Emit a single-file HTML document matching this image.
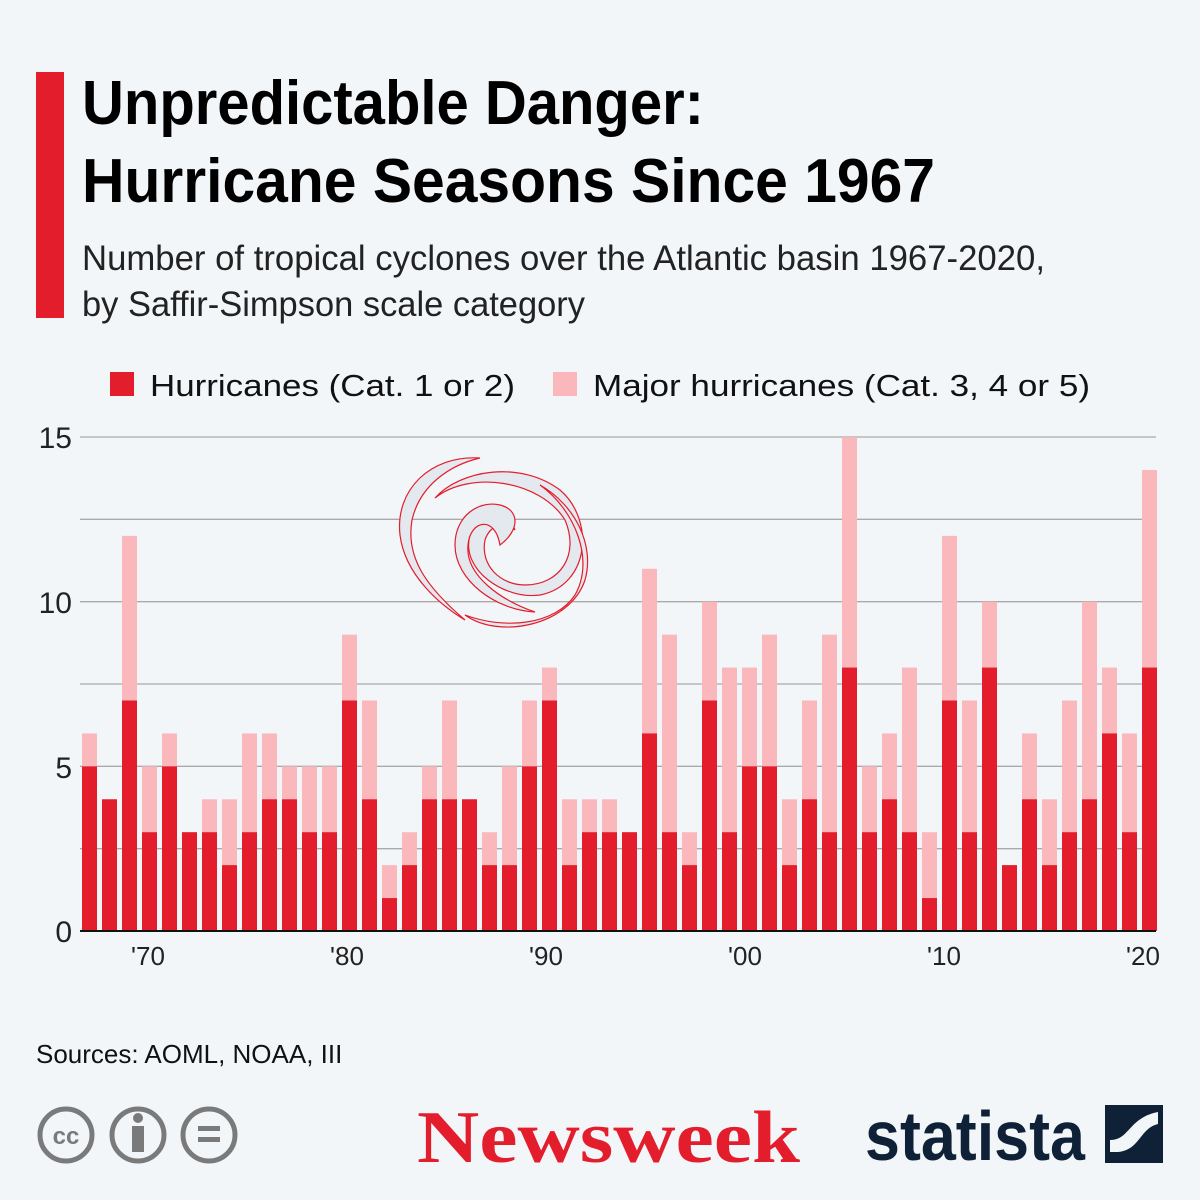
<!DOCTYPE html>
<html><head><meta charset="utf-8"><style>
html,body{margin:0;padding:0;background:#f3f6f9;}
svg{display:block;font-family:"Liberation Sans",sans-serif;}
</style></head><body>
<svg width="1200" height="1200" viewBox="0 0 1200 1200" xmlns="http://www.w3.org/2000/svg">
<rect width="1200" height="1200" fill="#f3f6f9"/>
<rect x="36" y="72" width="28" height="246" fill="#e31d2b"/>
<text x="82" y="124" font-size="62" font-weight="bold" textLength="622" lengthAdjust="spacingAndGlyphs" fill="#000">Unpredictable Danger:</text>
<text x="82" y="202" font-size="62" font-weight="bold" textLength="853" lengthAdjust="spacingAndGlyphs" fill="#000">Hurricane Seasons Since 1967</text>
<text x="82" y="270" font-size="35" textLength="963" lengthAdjust="spacingAndGlyphs" fill="#222">Number of tropical cyclones over the Atlantic basin 1967-2020,</text>
<text x="82" y="316" font-size="35" textLength="503" lengthAdjust="spacingAndGlyphs" fill="#222">by Saffir-Simpson scale category</text>
<rect x="110" y="372" width="24" height="24" fill="#e31d2b"/>
<text x="150" y="396" font-size="31" textLength="365" lengthAdjust="spacingAndGlyphs" fill="#111">Hurricanes (Cat. 1 or 2)</text>
<rect x="553" y="372" width="24" height="24" fill="#fbb8bc"/>
<text x="593" y="396" font-size="31" textLength="497" lengthAdjust="spacingAndGlyphs" fill="#111">Major hurricanes (Cat. 3, 4 or 5)</text>
<g stroke="#aaa" stroke-width="1.3">
<line x1="80" x2="1156" y1="437" y2="437"/><line x1="80" x2="1156" y1="519.3" y2="519.3"/>
<line x1="80" x2="1156" y1="601.7" y2="601.7"/><line x1="80" x2="1156" y1="684" y2="684"/>
<line x1="80" x2="1156" y1="766.3" y2="766.3"/><line x1="80" x2="1156" y1="848.7" y2="848.7"/>
</g>
<g font-size="30" fill="#222" text-anchor="end">
<text x="72" y="448">15</text><text x="72" y="613">10</text><text x="72" y="778">5</text><text x="72" y="942">0</text>
</g>
<g fill="none" stroke="#e31d2b" stroke-width="1.2">
<path d="M480 458 C430 455 395 490 400 535 C405 575 440 605 465 620 C430 590 405 560 412 520 C420 485 450 465 480 458Z" fill="#e4e9f0"/>
<path d="M435 498 C470 470 540 480 565 520 C580 555 560 585 525 585 C500 585 480 565 485 540 C490 525 505 520 515 530 C510 515 480 515 470 535 C460 570 505 600 540 595 C590 585 595 520 560 490 C520 460 460 470 435 498Z" fill="#e4e9f0"/>
<path d="M500 545 C520 530 520 510 500 505 C480 500 455 515 455 545 C455 580 495 610 535 612 C500 600 465 575 468 545 C470 520 495 515 500 545Z" fill="#e4e9f0"/>
<path d="M540 485 C575 510 595 560 575 595 C555 625 505 630 465 615 C500 640 570 625 585 580 C595 545 575 505 540 485Z" fill="#e4e9f0"/>
</g>
<g transform="translate(0,931) scale(1,-32.93)">
<g fill="#fbb8bc">
<rect x="82" y="0" width="15" height="6"/><rect x="102" y="0" width="15" height="4"/><rect x="122" y="0" width="15" height="12"/><rect x="142" y="0" width="15" height="5"/><rect x="162" y="0" width="15" height="6"/><rect x="182" y="0" width="15" height="3"/><rect x="202" y="0" width="15" height="4"/><rect x="222" y="0" width="15" height="4"/><rect x="242" y="0" width="15" height="6"/><rect x="262" y="0" width="15" height="6"/><rect x="282" y="0" width="15" height="5"/><rect x="302" y="0" width="15" height="5"/><rect x="322" y="0" width="15" height="5"/><rect x="342" y="0" width="15" height="9"/><rect x="362" y="0" width="15" height="7"/><rect x="382" y="0" width="15" height="2"/><rect x="402" y="0" width="15" height="3"/><rect x="422" y="0" width="15" height="5"/><rect x="442" y="0" width="15" height="7"/><rect x="462" y="0" width="15" height="4"/><rect x="482" y="0" width="15" height="3"/><rect x="502" y="0" width="15" height="5"/><rect x="522" y="0" width="15" height="7"/><rect x="542" y="0" width="15" height="8"/><rect x="562" y="0" width="15" height="4"/><rect x="582" y="0" width="15" height="4"/><rect x="602" y="0" width="15" height="4"/><rect x="622" y="0" width="15" height="3"/><rect x="642" y="0" width="15" height="11"/><rect x="662" y="0" width="15" height="9"/><rect x="682" y="0" width="15" height="3"/><rect x="702" y="0" width="15" height="10"/><rect x="722" y="0" width="15" height="8"/><rect x="742" y="0" width="15" height="8"/><rect x="762" y="0" width="15" height="9"/><rect x="782" y="0" width="15" height="4"/><rect x="802" y="0" width="15" height="7"/><rect x="822" y="0" width="15" height="9"/><rect x="842" y="0" width="15" height="15"/><rect x="862" y="0" width="15" height="5"/><rect x="882" y="0" width="15" height="6"/><rect x="902" y="0" width="15" height="8"/><rect x="922" y="0" width="15" height="3"/><rect x="942" y="0" width="15" height="12"/><rect x="962" y="0" width="15" height="7"/><rect x="982" y="0" width="15" height="10"/><rect x="1002" y="0" width="15" height="2"/><rect x="1022" y="0" width="15" height="6"/><rect x="1042" y="0" width="15" height="4"/><rect x="1062" y="0" width="15" height="7"/><rect x="1082" y="0" width="15" height="10"/><rect x="1102" y="0" width="15" height="8"/><rect x="1122" y="0" width="15" height="6"/><rect x="1142" y="0" width="15" height="14"/>
</g>
<g fill="#e31d2b">
<rect x="82" y="0" width="15" height="5"/><rect x="102" y="0" width="15" height="4"/><rect x="122" y="0" width="15" height="7"/><rect x="142" y="0" width="15" height="3"/><rect x="162" y="0" width="15" height="5"/><rect x="182" y="0" width="15" height="3"/><rect x="202" y="0" width="15" height="3"/><rect x="222" y="0" width="15" height="2"/><rect x="242" y="0" width="15" height="3"/><rect x="262" y="0" width="15" height="4"/><rect x="282" y="0" width="15" height="4"/><rect x="302" y="0" width="15" height="3"/><rect x="322" y="0" width="15" height="3"/><rect x="342" y="0" width="15" height="7"/><rect x="362" y="0" width="15" height="4"/><rect x="382" y="0" width="15" height="1"/><rect x="402" y="0" width="15" height="2"/><rect x="422" y="0" width="15" height="4"/><rect x="442" y="0" width="15" height="4"/><rect x="462" y="0" width="15" height="4"/><rect x="482" y="0" width="15" height="2"/><rect x="502" y="0" width="15" height="2"/><rect x="522" y="0" width="15" height="5"/><rect x="542" y="0" width="15" height="7"/><rect x="562" y="0" width="15" height="2"/><rect x="582" y="0" width="15" height="3"/><rect x="602" y="0" width="15" height="3"/><rect x="622" y="0" width="15" height="3"/><rect x="642" y="0" width="15" height="6"/><rect x="662" y="0" width="15" height="3"/><rect x="682" y="0" width="15" height="2"/><rect x="702" y="0" width="15" height="7"/><rect x="722" y="0" width="15" height="3"/><rect x="742" y="0" width="15" height="5"/><rect x="762" y="0" width="15" height="5"/><rect x="782" y="0" width="15" height="2"/><rect x="802" y="0" width="15" height="4"/><rect x="822" y="0" width="15" height="3"/><rect x="842" y="0" width="15" height="8"/><rect x="862" y="0" width="15" height="3"/><rect x="882" y="0" width="15" height="4"/><rect x="902" y="0" width="15" height="3"/><rect x="922" y="0" width="15" height="1"/><rect x="942" y="0" width="15" height="7"/><rect x="962" y="0" width="15" height="3"/><rect x="982" y="0" width="15" height="8"/><rect x="1002" y="0" width="15" height="2"/><rect x="1022" y="0" width="15" height="4"/><rect x="1042" y="0" width="15" height="2"/><rect x="1062" y="0" width="15" height="3"/><rect x="1082" y="0" width="15" height="4"/><rect x="1102" y="0" width="15" height="6"/><rect x="1122" y="0" width="15" height="3"/><rect x="1142" y="0" width="15" height="8"/>
</g>
</g>
<line x1="80" x2="1156" y1="931" y2="931" stroke="#111" stroke-width="2"/>
<g font-size="26" fill="#222" text-anchor="middle">
<text x="148" y="965">'70</text><text x="347" y="965">'80</text><text x="546" y="965">'90</text>
<text x="745" y="965">'00</text><text x="944" y="965">'10</text><text x="1143" y="965">'20</text>
</g>
<text x="36" y="1063" font-size="26" fill="#111">Sources: AOML, NOAA, III</text>
<g stroke="#7a7a7a" stroke-width="5" fill="none">
<circle cx="66" cy="1135" r="26"/><circle cx="138" cy="1135" r="26"/><circle cx="209" cy="1135" r="26"/>
</g>
<text x="66" y="1144" font-size="24" font-weight="bold" fill="#7a7a7a" text-anchor="middle">cc</text>
<circle cx="138" cy="1118" r="5" fill="#7a7a7a"/>
<rect x="132" y="1126" width="12" height="26" fill="#7a7a7a"/>
<rect x="198" y="1126" width="22" height="5" fill="#7a7a7a"/><rect x="198" y="1137" width="22" height="5" fill="#7a7a7a"/>
<text x="417" y="1162" font-family="Liberation Serif,serif" font-size="74" font-weight="bold" fill="#e31d2b" textLength="383" lengthAdjust="spacingAndGlyphs">Newsweek</text>
<text x="865" y="1160" font-size="70" font-weight="bold" fill="#0f2137" textLength="220" lengthAdjust="spacingAndGlyphs">statista</text>
<rect x="1105" y="1105" width="58" height="58" fill="#0f2137"/>
<path d="M1110 1140 C1130 1140 1128 1118 1158 1112 L1158 1124 C1140 1128 1140 1150 1118 1152 L1110 1152Z" fill="#f3f6f9"/>
</svg>
</body></html>
